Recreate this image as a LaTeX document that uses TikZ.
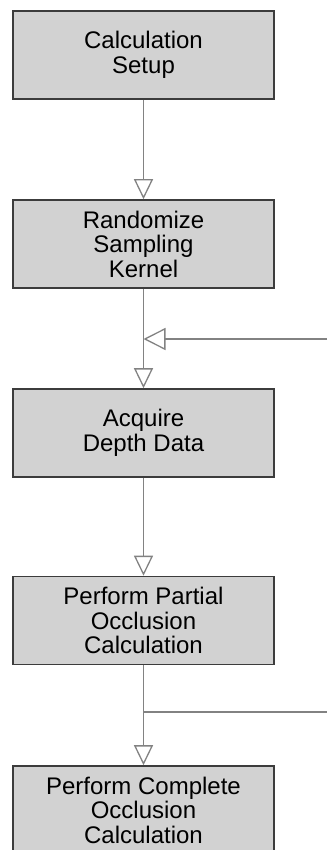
\documentclass[tikz,border=0pt]{standalone}
\usepackage{fontspec}
\setmainfont{Liberation Sans}
\usetikzlibrary{arrows.meta}
\definecolor{boxfill}{RGB}{210,210,210}
\definecolor{boxline}{RGB}{60,60,60}
\definecolor{connclr}{RGB}{130,130,130}
\begin{document}
\begin{tikzpicture}[x=1pt,y=-1pt,
  stepbox/.style={draw=boxline, line width=1.6pt, fill=boxfill,
    minimum width=261pt, minimum height=88pt, align=center, inner sep=0pt,
    font=\fontsize{24}{24.5}\selectfont},
  connline/.style={draw=connclr, line width=1.3pt},
  flow/.style={connline, -{Triangle[open, length=20pt, width=19pt]}}]
\useasboundingbox (0,0) rectangle (327,850);
\node[stepbox] (b1) at (143.5,55) {Calculation\\Setup};
\node[stepbox] (b2) at (143.5,244) {Randomize\\Sampling\\Kernel};
\node[stepbox] (b3) at (143.5,433) {Acquire\\Depth Data};
\node[stepbox] (b4) at (143.5,620.5) {Perform Partial\\Occlusion\\Calculation};
\node[stepbox] (b5) at (143.5,810) {Perform Complete\\Occlusion\\Calculation};
\coordinate (m1) at (143.5,339);
\coordinate (in1) at (327,339);
\coordinate (m2) at (143.5,712);
\coordinate (out2) at (327,712);
\draw[flow] (b1) -- (b2);
\draw[connline] (b2) -- (m1);
\draw[flow] (m1) -- (b3);
\draw[flow, -{Triangle[open, length=22pt, width=22pt]}] (in1) -- (m1);
\draw[flow] (b3) -- (b4);
\draw[flow] (b4) -- (b5);
\draw[connline] (m2) -- (out2);
\end{tikzpicture}
\end{document}
